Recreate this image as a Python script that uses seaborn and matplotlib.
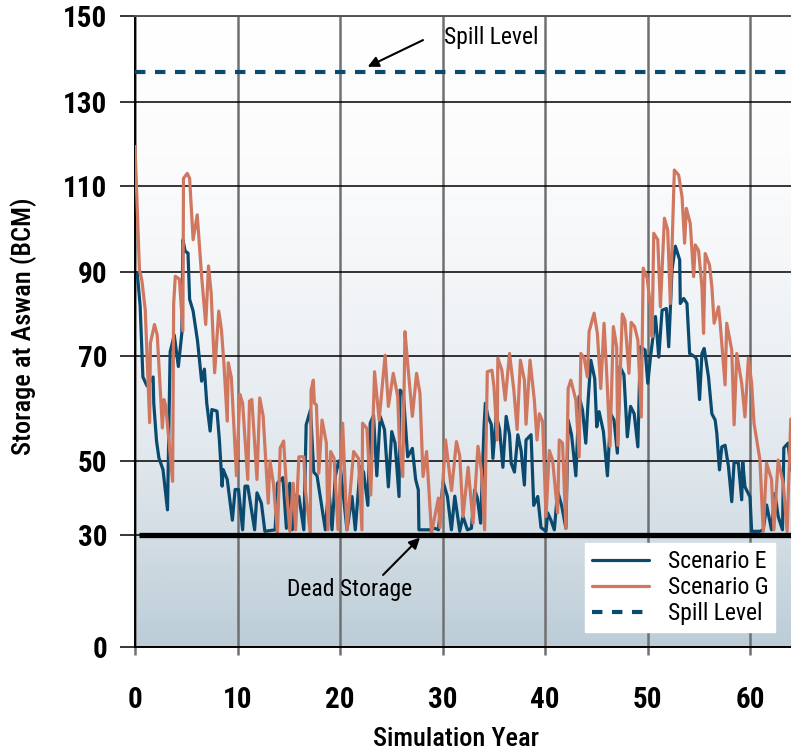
import numpy as np
import pandas as pd
import matplotlib
matplotlib.use("Agg")
import matplotlib.pyplot as plt
from matplotlib.colors import LinearSegmentedColormap
from matplotlib.lines import Line2D
from matplotlib import font_manager
import seaborn as sns

# ---------------- data ----------------
years_e = [0.23, 0.5, 0.77, 1.17, 1.77, 1.83, 2.1, 2.33, 2.73, 3.17,
           3.43, 3.83, 4.23, 4.57, 4.67, 4.9, 5.17, 5.33, 5.67, 6.1,
           6.5, 6.77, 7.0, 7.33, 7.5, 8.0, 8.23, 8.5, 8.6, 9.0,
           9.5, 9.77, 10.1, 10.5, 10.73, 11.0, 11.67, 11.9, 12.33, 12.67,
           13.67, 13.9, 14.43, 14.77, 15.1, 15.34, 15.73, 15.99, 16.47, 16.7,
           17.12, 17.44, 17.76, 18.57, 18.9, 19.22, 19.55, 19.87, 20.03, 20.68,
           21.17, 21.49, 21.97, 22.3, 22.72, 22.95, 23.27, 23.59, 23.92, 24.34,
           24.72, 25.05, 25.37, 25.76, 25.86, 26.18, 26.6, 27.06, 27.38, 27.64,
           27.7, 28.77, 29.25, 29.6, 30.06, 30.48, 30.87, 31.2, 31.68, 32.0,
           32.43, 32.82, 33.14, 33.4, 33.72, 34.05, 34.18, 34.43, 34.76, 34.92,
           35.24, 35.57, 35.89, 36.21, 36.54, 36.7, 37.02, 37.35, 37.67, 37.99,
           38.15, 38.64, 38.9, 39.29, 39.61, 40.1, 40.26, 40.58, 40.91, 41.23,
           41.62, 42.04, 42.26, 42.59, 43.01, 43.33, 43.66, 43.98, 44.21, 44.47,
           44.85, 45.05, 45.28, 45.7, 46.09, 46.41, 46.73, 47.06, 47.31, 47.7,
           48.03, 48.35, 48.7, 49.06, 49.3, 49.77, 50.03, 50.29, 50.78, 51.1,
           51.42, 51.84, 52.07, 52.39, 52.72, 53.14, 53.2, 53.53, 53.85, 54.11,
           54.66, 54.82, 55.08, 55.31, 55.53, 55.95, 56.28, 56.6, 56.76, 57.02,
           57.25, 57.57, 57.9, 58.22, 58.45, 58.87, 59.19, 59.29, 59.51, 60.0,
           60.16, 60.97, 61.29, 61.62, 62.1, 62.43, 62.75, 63.17, 63.3, 63.72,
           63.98]
storage_e = [89.5, 82, 66, 64.3, 66, 61, 53.8, 50.6, 47.7, 36.8,
             71, 75, 68, 75.5, 97.5, 94.8, 94.4, 83.5, 80.7, 73.6,
             65.2, 67.5, 61, 55.7, 59.8, 59.5, 54.1, 43.2, 47.7, 45,
             34, 42.3, 42.3, 31.4, 43.2, 43.2, 31.4, 41.4, 38.6, 31,
             31.4, 44, 45.5, 31.8, 44, 31.4, 40.8, 40.4, 31.4, 56.9,
             59.7, 47, 46, 31.4, 43, 31.4, 46, 50, 48.5, 31.4,
             40.4, 31.4, 48.5, 47, 38, 57.2, 58.7, 46, 58.5, 56,
             43, 55.6, 53.4, 40.4, 63.5, 62.9, 50.8, 52.4, 45, 42.2,
             31.4, 31.4, 31.8, 31.4, 44.4, 40.4, 31.4, 40.5, 31, 35,
             31.4, 31.8, 42.2, 40, 33.2, 56.5, 61, 58.5, 57, 50.5,
             58.7, 56, 48.3, 58.5, 55, 49.4, 47, 55, 52, 43.5,
             54, 55, 38, 40.4, 32, 31, 36, 34, 31.4, 41.8,
             38, 31.8, 57.8, 55, 46, 62.3, 59.7, 53.4, 61.6, 69.2,
             65.7, 56.5, 59.4, 55.6, 46, 59, 57.8, 51.5, 68, 66.4,
             54.6, 60.4, 59, 52.7, 72.2, 71.4, 64.8, 69.8, 79.4, 69.8,
             80.9, 81.3, 72.2, 90.5, 96, 92.8, 82.5, 83.7, 82.5, 70.6,
             69.8, 69.2, 61.7, 70.6, 71.8, 66, 59, 57.8, 55.3, 47.6,
             52.7, 53, 48.5, 39, 49.8, 49.4, 39.5, 49.8, 43, 40.3,
             31, 31, 31.4, 38.1, 31.4, 41.2, 35, 31.4, 52.5, 53.4,
             47.6]

years_g = [0.0, 0.43, 0.67, 1.0, 1.43, 1.5, 1.9, 2.17, 2.67, 2.83,
           3.0, 3.67, 3.77, 3.93, 4.33, 4.67, 4.73, 5.1, 5.33, 5.67,
           6.07, 6.5, 6.9, 7.17, 7.43, 7.77, 8.17, 8.43, 8.67, 9.0,
           9.1, 9.4, 9.9, 10.23, 10.5, 11.0, 11.17, 11.4, 11.9, 12.17,
           12.5, 13.0, 13.17, 13.5, 13.9, 14.17, 14.5, 14.83, 15.1, 15.43,
           15.67, 15.99, 16.47, 16.63, 17.1, 17.18, 17.4, 17.5, 17.7, 17.93,
           18.25, 18.67, 18.83, 19.09, 19.42, 19.81, 20.26, 20.68, 21.33, 21.8,
           22.14, 22.2, 22.62, 23.0, 23.37, 23.82, 24.4, 24.72, 25.2, 25.63,
           25.8, 26.12, 26.34, 26.6, 27.06, 27.47, 27.8, 28.1, 28.45, 28.93,
           29.6, 29.75, 30.3, 30.88, 31.36, 31.68, 32.0, 32.5, 32.98, 33.46,
           33.79, 34.11, 34.37, 34.82, 35.02, 35.34, 35.4, 35.79, 36.12, 36.54,
           36.96, 37.28, 37.6, 37.99, 38.15, 38.54, 38.96, 39.22, 39.45, 39.77,
           40.1, 40.42, 40.74, 41.23, 41.39, 41.71, 42.04, 42.26, 42.52, 43.01,
           43.33, 43.5, 43.82, 44.14, 44.3, 44.79, 45.11, 45.44, 45.76, 46.02,
           46.34, 46.67, 46.99, 47.1, 47.54, 47.8, 48.19, 48.41, 48.74, 49.06,
           49.39, 49.58, 49.97, 50.29, 50.45, 50.61, 51.0, 51.26, 51.65, 51.97,
           52.23, 52.62, 53.04, 53.37, 53.62, 53.79, 54.17, 54.5, 54.66, 54.98,
           55.31, 55.47, 55.63, 56.05, 56.28, 56.5, 56.93, 57.09, 57.57, 57.73,
           58.22, 58.45, 58.71, 59.19, 59.51, 59.84, 60.16, 60.39, 60.97, 61.29,
           61.62, 62.1, 62.33, 62.75, 63.24, 63.62, 63.98]
storage_g = [119.4, 90.6, 88, 81, 57.3, 73, 77.5, 75, 56.3, 61.7,
             60.5, 44.5, 82.3, 89, 88.3, 76, 111.8, 113, 111.8, 97.5,
             103.3, 89, 77.5, 91.4, 85, 66.8, 80.7, 76.3, 68.7, 57.6,
             68.7, 65.9, 46, 62.7, 61, 45, 61.4, 61.7, 45, 62,
             58.6, 38.6, 50, 44, 30.5, 52.5, 53.8, 40.5, 31, 44,
             31.4, 50.8, 50.8, 42, 30.5, 63.5, 65.4, 61, 60.7, 46.7,
             57.8, 53.4, 31.4, 51.8, 50.5, 31.4, 57.2, 31.4, 51.8, 50.5,
             31.4, 57.2, 56.2, 40.8, 67, 57.8, 70.2, 60.4, 66.7, 62.3,
             53.4, 45.8, 75.8, 68.6, 58.5, 66.7, 62.9, 45.8, 51.8, 30.5,
             40, 32, 54, 42, 53.7, 51, 35, 48.3, 33.2, 52.8,
             47.5, 31.4, 67, 67.3, 64.2, 54, 69.6, 67.3, 61.6, 70.6,
             63.5, 56, 69.2, 65.4, 57, 69.2, 61.6, 54, 59, 57.5,
             35, 52, 50.2, 36, 54, 53.4, 31.8, 63.8, 65.4, 61.6,
             50.8, 70.6, 69.6, 66, 75.8, 80.2, 75.4, 63.8, 77.8, 66.7,
             52.8, 77, 72.2, 53, 80, 78.5, 66.7, 78, 77, 73.8,
             58.4, 90.9, 88.5, 81.7, 74.6, 99, 97.5, 81.7, 102.5, 99.8,
             82.5, 113.8, 112.6, 107.5, 96.7, 104.8, 101.3, 88.9, 96.3, 95,
             86.5, 75.4, 94.3, 91.6, 86.5, 77.8, 81.7, 77.8, 64.5, 77.8,
             71.4, 56.9, 70.6, 64.8, 58.4, 69.6, 64.8, 57.2, 50.2, 31,
             49.4, 45, 31.4, 50.2, 44, 31, 58]

spill_level = 137
dead_storage = 30
series_names = ["Scenario E", "Scenario G"]
y_ticks = [0, 30, 50, 70, 90, 110, 130, 150]
x_ticks = [0, 10, 20, 30, 40, 50, 60]

# printed storage axis is not linear: relative spacing of its labelled levels
y_axis_pos = [0, 112, 186, 291, 375, 461, 545, 631]

assert len(years_e) == len(storage_e)
assert len(years_g) == len(storage_g)


def to_axis(v):
    return np.interp(v, y_ticks, y_axis_pos)


def from_axis(p):
    return np.interp(p, y_axis_pos, y_ticks)


# ---------------- styling ----------------
sns.set_theme(style="white")
available = {f.name for f in font_manager.fontManager.ttflist}
narrow = [f for f in ("Roboto Condensed", "Archivo Narrow", "Fira Sans Condensed")
          if f in available]
if narrow:
    plt.rcParams["font.family"] = [narrow[0], "DejaVu Sans"]
else:
    plt.rcParams["font.family"] = ["DejaVu Sans"]
    plt.rcParams["font.stretch"] = "condensed"

blue = "#0b4a6f"
orange = "#d07760"

W, H = 791, 756
fig = plt.figure(figsize=(W / 100, H / 100), dpi=100)
rect = [135 / W, 1 - 647 / H, 656 / W, 631 / H]

# shaded backdrop, pale at the top, blue-grey at the bottom
bg = fig.add_axes(rect, zorder=0)
grad = np.linspace(0, 1, 512).reshape(-1, 1)
bg_cmap = LinearSegmentedColormap.from_list(
    "bg", [(0.0, "#bccdd8"), (0.18, "#d4dee5"), (0.3, "#e1e8ed"),
           (0.46, "#ecf0f4"), (0.62, "#f5f7f9"), (0.78, "#fcfcfd"),
           (1.0, "#ffffff")])
bg.imshow(grad, aspect="auto", cmap=bg_cmap, origin="lower",
          extent=[0, 1, 0, 1], interpolation="bilinear")
bg.axis("off")

ax = fig.add_axes(rect, zorder=1)
ax.patch.set_alpha(0)

df = pd.concat([
    pd.DataFrame({"year": years_e, "storage": storage_e, "scenario": series_names[0]}),
    pd.DataFrame({"year": years_g, "storage": storage_g, "scenario": series_names[1]}),
], ignore_index=True)

ax.set_yscale("function", functions=(to_axis, from_axis))

sns.lineplot(data=df, x="year", y="storage", hue="scenario",
             palette={series_names[0]: blue, series_names[1]: orange},
             estimator=None, linewidth=2.3, legend=False, ax=ax, zorder=3)

xmax = 64.0
ax.hlines(dead_storage, 0.4, xmax, color="black", lw=3.8, zorder=4)
spill_style = (0, (2.5, 2.3))
ax.axhline(spill_level, color=blue, lw=3.0, linestyle=spill_style, zorder=4)

ax.set_xlim(0, xmax)
ax.set_ylim(0, 150)
ax.set_xticks(x_ticks)
ax.set_yticks(y_ticks)
ax.set_xticklabels([str(t) for t in x_ticks])
ax.set_yticklabels([str(t) for t in y_ticks])

ax.set_axisbelow(True)
ax.grid(axis="y", color="black", lw=1.1)
ax.grid(axis="x", color="#707070", lw=1.8)

ax.tick_params(axis="y", direction="out", length=11, width=1.1, color="black",
               pad=9, labelsize=21, left=True, labelcolor="black")
ax.tick_params(axis="x", direction="out", length=6, width=1.8, color="#707070",
               pad=22, labelsize=21, bottom=True, labelcolor="black")
for lab in ax.get_xticklabels() + ax.get_yticklabels():
    lab.set_fontweight("bold")

for side in ("left", "bottom"):
    ax.spines[side].set_color("black")
    ax.spines[side].set_linewidth(1.4)
ax.spines["top"].set_color("#555555")
ax.spines["top"].set_linewidth(1.4)
ax.spines["right"].set_visible(False)

ax.set_xlabel("Simulation Year", fontsize=19, fontweight="medium", color="black")
ax.set_ylabel("Storage at Aswan (BCM)", fontsize=19, fontweight="medium", color="black")
ax.xaxis.set_label_coords(0.489, -0.127)
ax.yaxis.set_label_coords(-0.149, 0.509)

# callouts
arrow_kw = dict(arrowstyle="-|>", color="black", lw=1.5,
                mutation_scale=16, shrinkA=0, shrinkB=0)
ax.annotate("", xy=(22.7, 138.2), xytext=(28.1, 144.4), arrowprops=arrow_kw, zorder=5)
ax.text(30.1, 144.9, "Spill Level", fontsize=17, ha="left", va="center",
        color="black", zorder=5)
ax.annotate("", xy=(27.8, 29.3), xytext=(24.2, 19.3), arrowprops=arrow_kw, zorder=5)
ax.text(14.8, 15.3, "Dead Storage", fontsize=17, ha="left", va="center",
        color="black", zorder=5)

handles = [Line2D([], [], color=blue, lw=2.3),
           Line2D([], [], color=orange, lw=2.3),
           Line2D([], [], color=blue, lw=3.0, linestyle=spill_style)]
labels = series_names + ["Spill Level"]
leg = ax.legend(handles, labels, loc="lower right", bbox_to_anchor=(0.976, 0.024),
                frameon=True, fancybox=False, facecolor="white", edgecolor="white",
                framealpha=1, fontsize=17, handlelength=2.4, handletextpad=0.8,
                borderpad=0.3, labelspacing=0.12, borderaxespad=0)
for t in leg.get_texts():
    t.set_color("black")
leg.set_zorder(6)

fig.savefig("out.png", dpi=100)
